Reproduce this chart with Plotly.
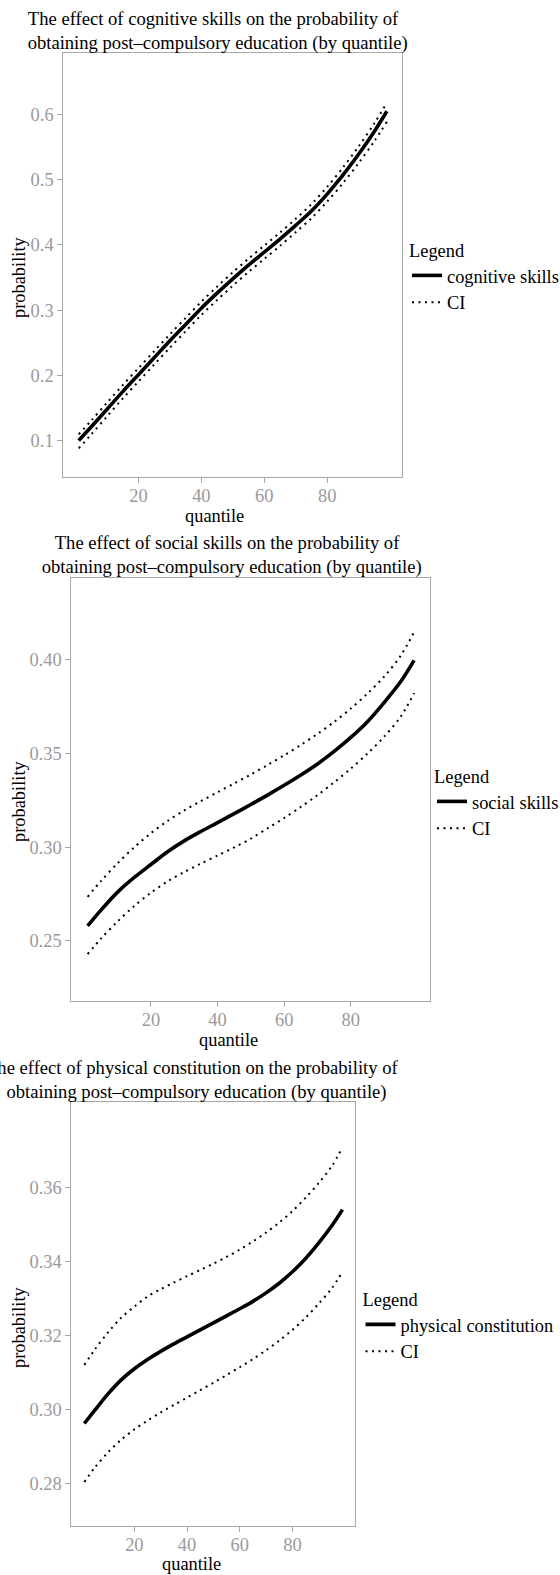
import plotly.graph_objects as go

# Predicted probability of post-compulsory education by skill quantile
quantile = [1, 5, 10, 15, 20, 25, 30, 35, 40, 45, 50, 55, 60, 65, 70, 75, 80, 85, 90, 95, 99]

cognitive = [0.100, 0.121, 0.148, 0.175, 0.201, 0.227, 0.253, 0.278, 0.303, 0.326, 0.348,
             0.369, 0.389, 0.409, 0.430, 0.452, 0.478, 0.507, 0.539, 0.574, 0.605]
cognitive_hi = [0.1095, 0.1308, 0.158, 0.185, 0.211, 0.237, 0.263, 0.288, 0.313, 0.336, 0.358,
                0.379, 0.399, 0.419, 0.440, 0.4625, 0.489, 0.5185, 0.551, 0.5865, 0.618]
cognitive_lo = [0.088, 0.1095, 0.137, 0.1645, 0.1905, 0.2165, 0.2425, 0.2675, 0.2925, 0.3155, 0.3375,
                0.3585, 0.3785, 0.3985, 0.4195, 0.441, 0.4665, 0.4945, 0.5255, 0.559, 0.589]

social = [0.258, 0.2664, 0.2760, 0.2838, 0.2907, 0.2975, 0.3033, 0.3083, 0.3130, 0.3178, 0.3227,
          0.3277, 0.3329, 0.3384, 0.3443, 0.3510, 0.3584, 0.3668, 0.3770, 0.3882, 0.3995]
social_hi = [0.2735, 0.2819, 0.2914, 0.2999, 0.3074, 0.3139, 0.3195, 0.3245, 0.3292, 0.3339, 0.3387,
             0.3437, 0.3489, 0.3544, 0.3603, 0.3667, 0.3738, 0.3818, 0.3908, 0.4020, 0.4145]
social_lo = [0.2430, 0.2512, 0.2604, 0.2686, 0.2757, 0.2817, 0.2867, 0.2912, 0.2955, 0.2998, 0.3045,
             0.3100, 0.3155, 0.3214, 0.3277, 0.3345, 0.3418, 0.3498, 0.3588, 0.3695, 0.3820]

physical = [0.2962, 0.2998, 0.3042, 0.3080, 0.3110, 0.3135, 0.3157, 0.3177, 0.3196, 0.3215, 0.3234,
            0.3253, 0.3272, 0.3292, 0.3315, 0.3341, 0.3372, 0.3408, 0.3450, 0.3497, 0.3540]
physical_hi = [0.3120, 0.3162, 0.3208, 0.3248, 0.3278, 0.3305, 0.3325, 0.3343, 0.3360, 0.3377, 0.3394,
               0.3412, 0.3432, 0.3454, 0.3478, 0.3505, 0.3536, 0.3572, 0.3612, 0.3658, 0.3708]
physical_lo = [0.2804, 0.2843, 0.2884, 0.2918, 0.2946, 0.2970, 0.2992, 0.3012, 0.3032, 0.3052, 0.3072,
               0.3093, 0.3114, 0.3136, 0.3160, 0.3186, 0.3215, 0.3248, 0.3286, 0.3328, 0.3372]

skill_names = ["cognitive skills", "social skills", "physical constitution"]
x_ticks = [20, 40, 60, 80]
y_ticks = [[0.1, 0.2, 0.3, 0.4, 0.5, 0.6],
           [0.25, 0.30, 0.35, 0.40],
           [0.28, 0.30, 0.32, 0.34, 0.36]]
y_fmt = [".1f", ".2f", ".2f"]

W, H = 560, 1575
FONT = "Liberation Serif"
FS = 18.4
FS_TITLE = 18.6
GREY_TXT = "#9a9a9a"
GREY_LINE = "#a6a6a6"

# panel boxes in pixels: left, right, top, bottom
panels = [(63.3, 402.3, 53.3, 477.3),
          (71.3, 430.4, 577.7, 1001.0),
          (71.4, 355.4, 1102.3, 1526.0)]
y_ranges = [[0.0436, 0.6939], [0.218, 0.4435], [0.2685, 0.383]]
x_range = [-3.9, 103.9]
title_cx = [215.0, 229.0, 193.7]
title_cy = [30.8, 555.0, 1080.0]
xlab_pos = [(214.8, 516.0), (228.4, 1040.0), (191.4, 1564.0)]
ylab_pos = [(19.0, 277.0), (19.0, 801.0), (19.0, 1327.0)]
legend_pos = [(407.0, 233.0), (432.0, 759.0), (360.5, 1282.0)]

series = [(cognitive, cognitive_hi, cognitive_lo),
          (social, social_hi, social_lo),
          (physical, physical_hi, physical_lo)]

fig = go.Figure()
layout = dict(width=W, height=H, margin=dict(l=0, r=0, t=0, b=0, autoexpand=False),
              paper_bgcolor="white", plot_bgcolor="white",
              font=dict(family=FONT, size=FS, color="black"),
              annotations=[])

dotted = dict(color="black", width=2, dash="2px,4.5px", shape="spline", smoothing=0.9)

for i, (mid, hi, lo) in enumerate(series):
    n = "" if i == 0 else str(i + 1)
    xa, ya = "x" + n, "y" + n
    leg = "legend" + n
    fig.add_trace(go.Scatter(x=quantile, y=mid, mode="lines", name=skill_names[i],
                             line=dict(color="black", width=3.6, shape="spline", smoothing=0.9),
                             xaxis=xa, yaxis=ya, legend=leg, legendgroup="m" + n))
    fig.add_trace(go.Scatter(x=quantile, y=hi, mode="lines", name="CI", line=dotted,
                             xaxis=xa, yaxis=ya, legend=leg, legendgroup="ci" + n))
    fig.add_trace(go.Scatter(x=quantile, y=lo, mode="lines", name="CI", showlegend=False,
                             line=dotted, xaxis=xa, yaxis=ya, legend=leg, legendgroup="ci" + n))

    left, right, top, bottom = panels[i]
    axis_common = dict(showline=True, linecolor=GREY_LINE, linewidth=1, mirror=True,
                       showgrid=False, zeroline=False, ticks="outside", ticklen=5,
                       tickcolor=GREY_LINE, tickwidth=1, automargin=False,
                       tickfont=dict(family=FONT, size=FS, color=GREY_TXT))
    layout["xaxis" + n] = dict(axis_common, domain=[left / W, right / W], range=x_range,
                               tickvals=x_ticks, anchor=ya, ticklabelstandoff=-3)
    layout["yaxis" + n] = dict(axis_common, domain=[1 - bottom / H, 1 - top / H],
                               range=y_ranges[i], tickvals=y_ticks[i], tickformat=y_fmt[i],
                               anchor=xa)
    lx, ly = legend_pos[i]
    layout[leg] = dict(x=lx / W, y=1 - ly / H, xanchor="left", yanchor="top",
                       title=dict(text="Legend", font=dict(family=FONT, size=FS, color="black")),
                       font=dict(family=FONT, size=FS, color="black"),
                       bgcolor="rgba(0,0,0,0)", borderwidth=0, tracegroupgap=0)

    title = ("The effect of " + skill_names[i] + " on the probability of\u00a0<br>"
             "\u00a0obtaining post\u2013compulsory education (by quantile)")
    layout["annotations"].append(dict(text=title, x=title_cx[i] / W, y=1 - title_cy[i] / H,
                                      xref="paper", yref="paper", xanchor="center", yanchor="middle",
                                      align="center", showarrow=False,
                                      font=dict(family=FONT, size=FS_TITLE, color="black")))
    layout["annotations"].append(dict(text="quantile", x=xlab_pos[i][0] / W, y=1 - xlab_pos[i][1] / H,
                                      xref="paper", yref="paper", xanchor="center", yanchor="middle",
                                      showarrow=False, font=dict(family=FONT, size=FS, color="black")))
    layout["annotations"].append(dict(text="probability", x=ylab_pos[i][0] / W, y=1 - ylab_pos[i][1] / H,
                                      xref="paper", yref="paper", xanchor="center", yanchor="middle",
                                      textangle=-90, showarrow=False,
                                      font=dict(family=FONT, size=FS, color="black")))

fig.update_layout(**layout)
fig.write_html("out.html")
